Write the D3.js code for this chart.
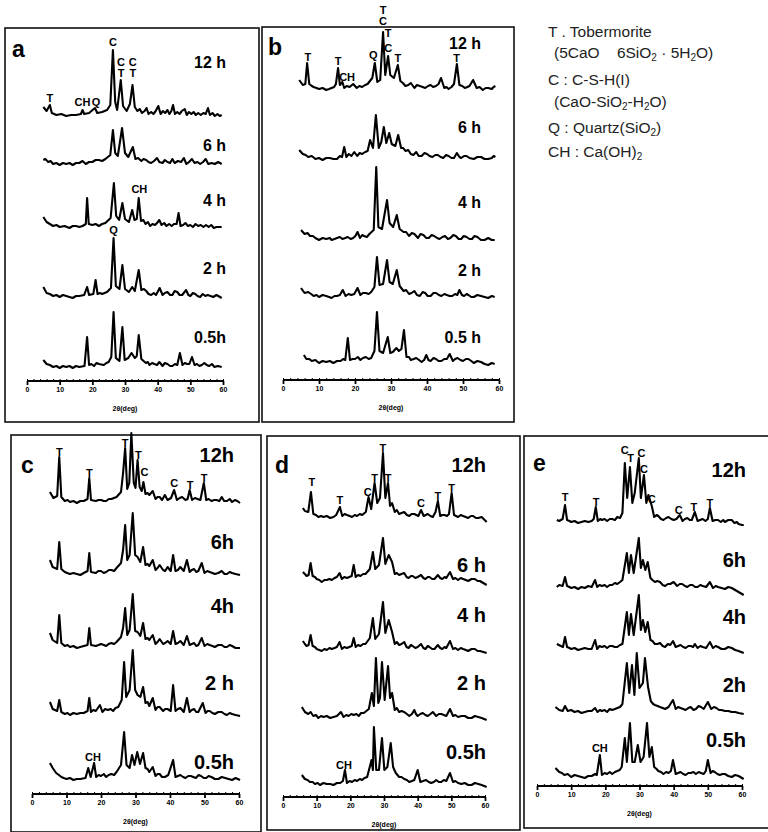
<!DOCTYPE html>
<html>
<head>
<meta charset="utf-8">
<script src="https://cdn.jsdelivr.net/npm/d3@7"></script>
<style>
  body { margin: 0; background: #fff; }
  svg { display: block; }
</style>
</head>
<body>
<div id="chart"></div>
<script>
// ---------- data (2theta in deg, intensity in counts above each trace baseline) ----------
const panelNames = ['a', 'b', 'c', 'd', 'e'];
const tickValues = [0, 10, 20, 30, 40, 50, 60];

const timeLabels = {
    a: ['12 h', '6 h', '4 h', '2 h', '0.5h'],
    b: ['12 h', '6 h', '4 h', '2 h', '0.5 h'],
    c: ['12h', '6h', '4h', '2 h', '0.5h'],
    d: ['12h', '6 h', '4 h', '2 h', '0.5h'],
    e: ['12h', '6h', '4h', '2h', '0.5h']
};

// panel a
const a12h = [[5, 100], [6, 60], [7, 120], [7.6, 40], [9, 20], [10.5, 30], [12, 10], [13.5, 20], [15, 20], [16.5, 30], [17, 70], [17.5, 30], [19, 40], [20.8, 90], [21.5, 40], [23, 50], [24.5, 70], [25.5, 120], [26.3, 670], [27, 150], [27.6, 70], [28.7, 370], [29.4, 110], [30.5, 60], [31.5, 130], [32.3, 320], [33, 100], [33.8, 60], [34.5, 80], [35.2, 40], [36, 60], [36.6, 90], [37.2, 30], [38, 50], [38.7, 30], [39.4, 60], [40.2, 110], [40.9, 30], [41.6, 60], [42.3, 40], [43, 70], [43.6, 30], [44.2, 60], [44.7, 120], [45.3, 30], [46, 50], [46.7, 30], [47.4, 60], [48.3, 80], [48.9, 20], [49.6, 50], [50.3, 30], [51, 50], [51.7, 20], [52.4, 40], [53.2, 20], [54, 40], [54.7, 30], [55.4, 90], [56, 20], [56.8, 40], [57.5, 10], [58.3, 30], [59, 10], [59.6, 20]];
const a6h = [[5, 50], [5.6, 60], [6.5, 30], [7.2, 40], [8, 10], [9, 20], [10, 0], [11, 20], [12, 10], [13, 20], [14, 0], [15, 20], [16, 20], [17, 40], [18, 10], [19, 30], [20, 30], [21, 50], [22, 50], [23, 40], [24, 60], [25.5, 100], [26.3, 350], [27, 120], [27.8, 90], [29.1, 370], [30, 120], [31, 80], [32.4, 180], [33.2, 60], [34, 70], [35, 40], [35.7, 60], [36.5, 50], [37.2, 30], [38, 20], [38.9, 40], [39.8, 70], [40.5, 30], [41.5, 20], [42.2, 50], [43, 30], [43.8, 20], [44.5, 60], [45.2, 20], [46.2, 40], [47.2, 30], [48, 70], [48.8, 10], [49.6, 30], [50.5, 60], [51.3, 20], [52.2, 30], [53, 10], [53.9, 30], [54.7, 60], [55.5, 10], [56.5, 20], [57.5, 10], [58.5, 30], [59.6, 10]];
const a4h = [[5, 110], [6, 60], [7, 40], [8, 20], [9, 30], [10, 10], [11.5, 20], [13, 0], [14, 20], [15, 20], [16, 10], [17, 20], [18, 40], [18.4, 300], [18.9, 40], [20, 30], [21, 40], [22, 20], [23, 40], [24, 50], [25.6, 100], [26.6, 450], [27.3, 120], [28.2, 80], [29.2, 250], [30, 90], [31.2, 60], [32.2, 180], [32.9, 80], [33.6, 90], [34.2, 300], [34.9, 70], [35.6, 80], [36.3, 40], [37, 60], [37.7, 20], [38.4, 40], [39.2, 30], [39.8, 50], [40.5, 80], [41.2, 30], [42, 50], [42.7, 20], [43.5, 40], [44.3, 20], [45, 40], [45.8, 40], [46.4, 150], [47, 20], [47.8, 30], [48.5, 50], [49.3, 20], [50, 30], [50.8, 10], [51.6, 40], [52.4, 20], [53.2, 30], [54, 10], [54.8, 30], [55.6, 10], [56.4, 30], [57.2, 0], [58, 10], [59.6, 10]];
const a2h = [[5, 110], [6, 50], [7, 40], [8, 20], [9, 30], [10, 10], [11, 30], [12, 20], [13, 10], [14, 0], [15, 20], [16, 20], [17.5, 30], [18.4, 110], [19, 30], [20.3, 40], [21, 180], [21.6, 40], [22.3, 50], [23, 40], [24.5, 60], [25.7, 100], [26.5, 600], [27.2, 120], [28.3, 90], [29.2, 330], [30, 90], [31.2, 60], [32.2, 110], [33, 70], [34.2, 280], [35, 80], [35.8, 90], [36.5, 70], [37.2, 40], [38, 30], [38.8, 50], [39.5, 30], [40.6, 100], [41.5, 30], [42.2, 50], [43, 60], [43.8, 30], [44.5, 30], [45.2, 70], [46, 60], [46.7, 30], [47.5, 30], [48.7, 80], [49.4, 30], [50, 20], [50.8, 50], [51.5, 40], [52.2, 20], [53, 10], [53.8, 40], [54.6, 20], [55.3, 30], [56.2, 20], [57, 10], [58, 30], [59.6, 0]];
const a05h = [[5, 80], [6, 40], [7, 30], [8, 10], [9, 20], [10, 0], [11, 20], [12, 10], [13, 20], [14, 0], [15, 20], [16, 10], [17.6, 20], [18.4, 310], [19, 30], [19.7, 40], [20.5, 20], [21.3, 50], [22, 40], [23.5, 30], [24.3, 50], [25, 60], [25.8, 110], [26.5, 560], [27.2, 100], [28.3, 70], [29.2, 410], [29.9, 80], [31, 100], [32, 150], [33, 100], [33.6, 120], [34.2, 330], [35, 90], [35.7, 70], [36.4, 50], [37, 60], [37.5, 30], [38.3, 50], [39, 40], [39.8, 30], [40.5, 60], [41.5, 20], [42.2, 50], [43, 40], [43.8, 20], [44.5, 20], [45.3, 40], [46, 30], [46.8, 150], [47.6, 30], [48.3, 50], [49, 40], [49.7, 40], [50.5, 110], [51.3, 30], [52, 40], [52.8, 20], [53.5, 30], [54.3, 50], [55, 30], [55.8, 20], [56.6, 40], [57.4, 10], [58.4, 20], [59.6, 10]];

// panel b
const b12h = [[4.5, 100], [5.5, 50], [6.2, 60], [6.7, 270], [7.3, 60], [8, 40], [8.5, 30], [9.3, 20], [10, 10], [11, 20], [12, 0], [12.8, 10], [13.5, 20], [14.2, 30], [14.7, 60], [15.3, 220], [15.8, 50], [16.5, 80], [17, 20], [17.7, 40], [18.5, 30], [19.5, 60], [20.5, 20], [21.2, 40], [22, 30], [22.8, 50], [23.5, 60], [24.8, 120], [25.5, 270], [26.2, 80], [27, 100], [27.8, 580], [28.4, 150], [29.2, 340], [29.8, 150], [30.8, 120], [31.9, 250], [32.6, 90], [33.3, 70], [34, 40], [34.8, 50], [35.5, 70], [36.5, 20], [37.2, 50], [38, 40], [38.8, 30], [39.5, 20], [40.3, 40], [41, 50], [41.7, 30], [42.5, 40], [43.2, 60], [43.9, 120], [44.8, 20], [45.4, 30], [46, 10], [46.8, 30], [47.5, 60], [48.3, 260], [49, 50], [49.8, 40], [50.5, 20], [51.2, 30], [51.8, 40], [52.8, 100], [53.8, 20], [54.6, 30], [55.5, 0], [56.3, 20], [57, 20], [58, 10], [58.5, 30], [59, 40]];
const b6h = [[4.5, 100], [5.5, 60], [6.3, 50], [7, 30], [8, 40], [9, 10], [10, 20], [11, 0], [12, 20], [13, 20], [14, 10], [15, 10], [15.8, 40], [16.4, 30], [17, 130], [17.6, 30], [18.3, 60], [19, 40], [19.8, 80], [20.6, 40], [21.3, 70], [22, 60], [22.8, 80], [23.5, 90], [24.2, 200], [25, 120], [25.8, 450], [26.6, 120], [27.3, 180], [28, 330], [28.7, 170], [29.5, 270], [30.2, 160], [31.2, 140], [32, 250], [32.8, 120], [33.4, 120], [34, 90], [34.8, 100], [35.5, 60], [36.2, 50], [37, 80], [37.7, 40], [38.5, 40], [39.3, 70], [40, 60], [40.7, 40], [41.5, 30], [42.3, 50], [43, 50], [43.8, 30], [44.5, 20], [45.3, 50], [46, 40], [46.8, 20], [47.5, 20], [48.3, 70], [49, 30], [49.5, 20], [50.3, 40], [51, 40], [51.8, 20], [53, 10], [54, 30], [55, 30], [56, 10], [57, 10], [58, 20], [58.5, 40], [59, 30]];
const b4h = [[5, 100], [6, 60], [6.8, 70], [7.5, 40], [8.3, 40], [9, 20], [10, 0], [11, 20], [12, 10], [13, 20], [13.5, 0], [14.3, 10], [15, 20], [15.8, 30], [16.5, 10], [17.3, 20], [18, 30], [18.8, 10], [19.5, 20], [20.1, 40], [20.7, 80], [21.4, 20], [22, 50], [22.5, 40], [23.3, 30], [24, 60], [25.2, 100], [25.9, 730], [26.5, 130], [27.5, 110], [28.9, 400], [29.6, 170], [30.6, 130], [31.6, 250], [32.4, 110], [33.5, 80], [34.2, 80], [35, 40], [35.8, 70], [36.5, 60], [37.5, 20], [38.2, 60], [39, 50], [39.8, 20], [40.5, 20], [41.3, 50], [42, 40], [42.8, 20], [43.5, 10], [44.3, 30], [45, 40], [45.8, 10], [46.5, 20], [47.3, 50], [48, 40], [48.8, 10], [49.5, 10], [50.2, 40], [51, 30], [51.8, 10], [52.5, 10], [53.2, 40], [54, 30], [55, 0], [56, 0], [57, 20], [58, 0], [58.8, 0]];
const b2h = [[5, 100], [6, 50], [7, 60], [7.8, 40], [8.5, 20], [9.3, 30], [10, 10], [11, 30], [12, 20], [12.8, 10], [13.5, 0], [14.3, 20], [15, 20], [15.8, 30], [16.6, 80], [17.4, 20], [18.2, 40], [19, 30], [19.8, 40], [20.7, 100], [21.5, 30], [22.2, 50], [23, 50], [23.8, 40], [24.5, 60], [25.4, 110], [26.1, 410], [26.8, 130], [27.8, 140], [28.9, 380], [29.6, 160], [30.5, 140], [31.6, 280], [32.4, 120], [33.5, 70], [34.2, 80], [35, 40], [35.7, 50], [36.5, 70], [37.2, 30], [38, 20], [38.8, 60], [39.5, 50], [40.2, 20], [41, 20], [41.8, 50], [42.5, 50], [43.3, 30], [44, 20], [44.8, 40], [45.5, 30], [46.3, 20], [47, 20], [47.8, 40], [48.4, 30], [49, 80], [49.7, 30], [50.3, 20], [51, 40], [51.5, 30], [52.3, 10], [53, 10], [54, 30], [55, 20], [56, 10], [57, 0], [58, 20], [58.8, 10]];
const b05h = [[5.8, 80], [6.5, 40], [7.3, 40], [8, 20], [9, 30], [10, 0], [11, 20], [12, 10], [13, 20], [14, 0], [15, 20], [16, 20], [16.7, 40], [17.3, 30], [18, 250], [18.6, 30], [19.3, 40], [20, 40], [20.8, 60], [21.5, 30], [22.2, 50], [23, 60], [23.8, 40], [24.5, 50], [25.4, 120], [26.1, 510], [26.8, 120], [27.8, 100], [29.1, 260], [29.8, 100], [30.5, 110], [31.5, 150], [32.2, 120], [32.9, 140], [33.6, 330], [34.3, 60], [35, 60], [35.5, 30], [36.3, 40], [37, 50], [37.8, 30], [38.5, 10], [39.2, 30], [39.8, 80], [40.4, 30], [41, 20], [41.8, 50], [42.5, 40], [43.2, 20], [44, 20], [44.8, 40], [45.5, 40], [46.3, 90], [47.2, 20], [47.8, 40], [48.5, 50], [49.3, 30], [50, 20], [50.8, 40], [51.5, 40], [52.3, 20], [53, 0], [54, 20], [55, 10], [56, -10], [57, -20], [58, 0], [58.8, -10]];

// panel c
const c12h = [[5.2, 110], [6.2, 50], [7.3, 70], [7.9, 460], [8.5, 60], [9.5, 20], [10.3, 30], [11, 10], [12, 20], [13, 0], [14, 20], [15, 20], [16.1, 40], [16.6, 250], [17.1, 30], [18.5, 20], [19.3, 30], [20, 30], [20.8, 20], [21.5, 20], [22.3, 40], [23, 40], [24.5, 60], [25.8, 110], [26.4, 300], [27, 550], [27.6, 140], [28.2, 200], [28.8, 700], [29.5, 200], [30, 150], [30.6, 430], [31.2, 160], [31.8, 120], [32.3, 210], [32.9, 90], [33.5, 100], [34, 80], [35, 120], [35.8, 40], [36.4, 60], [37, 60], [37.7, 30], [38.5, 80], [39.3, 30], [40.3, 50], [41.2, 130], [42, 30], [42.8, 50], [43.5, 60], [44.5, 30], [45.1, 40], [45.7, 130], [46.4, 30], [47.2, 50], [48, 40], [48.8, 30], [49.8, 200], [50.5, 30], [51.2, 40], [52, 20], [52.8, 30], [53.5, 30], [54.3, 20], [55, 60], [55.7, 20], [56.5, 20], [57.3, 40], [58, 10], [58.8, 30], [59.5, 20], [60.3, 0]];
const c6h = [[5.2, 150], [6, 80], [7.3, 60], [7.9, 330], [8.5, 60], [9.5, 30], [10.2, 20], [11, 10], [12, 20], [13, 10], [14, 0], [15, 20], [16.1, 40], [16.6, 220], [17.1, 30], [18.5, 20], [19.2, 40], [20, 40], [20.8, 20], [21.5, 30], [22.3, 50], [23, 50], [23.8, 40], [24.5, 70], [25.8, 120], [26.4, 250], [27, 500], [27.6, 150], [28.3, 200], [29.2, 620], [29.9, 200], [30.6, 180], [31.4, 130], [32.2, 280], [32.9, 100], [33.5, 110], [34, 90], [35, 150], [35.8, 50], [36.4, 70], [37, 100], [38, 50], [38.6, 40], [39.3, 80], [40.2, 40], [40.9, 200], [41.6, 40], [42.3, 50], [43, 80], [44, 40], [44.9, 150], [45.7, 30], [46.3, 50], [47, 60], [47.6, 30], [48.2, 40], [49.2, 120], [50, 20], [50.8, 40], [51.5, 30], [52.3, 20], [53, 10], [54, 20], [55, 40], [55.8, 10], [56.5, 10], [57.3, 30], [58, 20], [59, 10], [60.3, 0]];
const c4h = [[5.2, 150], [6, 80], [7.3, 50], [7.9, 330], [8.5, 50], [9.5, 20], [10.3, 30], [11, 10], [12, 20], [13, 0], [14, 10], [15, 20], [16.1, 30], [16.6, 200], [17.1, 30], [18.5, 20], [19.3, 30], [20, 40], [20.8, 30], [21.5, 20], [22.2, 40], [23, 50], [23.8, 40], [24.5, 60], [25.8, 110], [26.4, 200], [27, 400], [27.6, 130], [28.3, 180], [29.2, 540], [29.9, 170], [30.6, 160], [31.4, 120], [32.2, 250], [32.9, 90], [33.5, 100], [34, 80], [35, 130], [35.8, 40], [36.4, 60], [37, 90], [38, 40], [38.6, 50], [39.3, 70], [40.2, 40], [40.9, 170], [41.6, 40], [42.3, 50], [43, 70], [44, 30], [44.9, 120], [45.7, 30], [46.3, 40], [47, 50], [47.6, 20], [48.2, 30], [49.2, 100], [50, 20], [50.8, 40], [51.5, 30], [52.3, 20], [53, 10], [54, 30], [55, 30], [55.8, 10], [56.5, 10], [57.3, 30], [58, 20], [59, 0], [60.3, 0]];
const c2h = [[5.2, 130], [6, 60], [7.3, 40], [7.9, 150], [8.5, 30], [9.5, 10], [10.3, 20], [11, 0], [12, 20], [13, 10], [14, 20], [15, 20], [16.1, 40], [16.6, 170], [17.1, 30], [17.8, 50], [18.5, 40], [19.7, 100], [20.4, 30], [21.2, 60], [22, 50], [22.8, 60], [23.5, 40], [24.2, 70], [25, 80], [26, 150], [26.7, 530], [27.3, 180], [28.3, 250], [29.2, 650], [29.9, 250], [30.6, 200], [31.4, 180], [32.2, 280], [32.9, 120], [33.5, 130], [34, 90], [35, 170], [35.8, 50], [36.4, 80], [37, 80], [38, 40], [38.6, 60], [39.3, 60], [40.2, 40], [40.9, 300], [41.6, 40], [42.3, 60], [43, 70], [44, 30], [44.9, 170], [45.7, 30], [46.3, 50], [47, 60], [47.6, 30], [48.2, 30], [49.5, 120], [50.3, 20], [50.9, 40], [51.5, 40], [52.3, 20], [53, 10], [54, 30], [55, 30], [55.8, 10], [56.5, 0], [57.3, 20], [58, 10], [59, 0], [60.3, -10]];
const c05h = [[5.2, 170], [6, 120], [7, 70], [7.8, 50], [8.5, 30], [9.2, 20], [10, 10], [11, 20], [12, 0], [13, 10], [14, 10], [15.5, 20], [16.3, 120], [17, 30], [18, 170], [18.6, 30], [19.3, 50], [20, 40], [20.8, 60], [21.5, 30], [22.2, 50], [23, 60], [23.8, 50], [24.5, 80], [25.8, 150], [26.7, 480], [27.4, 150], [28.3, 120], [29, 250], [29.7, 150], [30.5, 280], [31.3, 160], [32.2, 270], [32.9, 120], [33.5, 110], [34, 80], [35, 130], [35.8, 40], [36.4, 60], [37, 60], [37.7, 30], [38.5, 30], [39.5, 50], [40.9, 200], [41.6, 30], [42.3, 40], [43, 50], [43.8, 30], [44.5, 20], [45.3, 40], [46, 40], [46.8, 30], [47.5, 20], [48.3, 50], [49, 40], [49.8, 20], [50.5, 20], [51.2, 40], [52, 30], [53, 10], [54, 10], [55, 30], [56, 20], [57, 10], [58, 0], [59, 20], [60.3, 0]];

// panel d
const d12h = [[5.9, 100], [6.5, 70], [7.5, 60], [8.3, 260], [9, 40], [9.8, 30], [10.5, 10], [11.3, 20], [12, 10], [13, 20], [14, 0], [15, 10], [15.8, 30], [16.9, 110], [17.6, 20], [18.3, 40], [19, 30], [19.8, 20], [20.5, 10], [21.3, 30], [22, 20], [22.8, 40], [23.5, 30], [24.6, 60], [25.4, 210], [26.2, 90], [27.2, 350], [28, 150], [28.8, 200], [29.7, 650], [30.4, 200], [31.2, 350], [31.8, 120], [32.4, 150], [33.2, 60], [33.8, 80], [34.5, 40], [35.2, 50], [36, 60], [36.8, 30], [37.5, 20], [38.2, 40], [39, 40], [39.6, 30], [40.2, 20], [41, 80], [41.8, 20], [42.4, 30], [43, 40], [43.8, 20], [44.5, 10], [45.3, 60], [46, 170], [46.7, 20], [47.3, 30], [48, 30], [48.7, 20], [49.3, 40], [50.1, 250], [50.8, 30], [51.4, 20], [52, 10], [52.8, 30], [53.5, 20], [54.3, 10], [55, 0], [55.8, 20], [56.5, 20], [57.3, 0], [58, 0], [59, 10], [60.5, -40]];
const d6h = [[5.9, 80], [6.5, 60], [7, 40], [7.6, 50], [8.2, 170], [8.8, 40], [9.5, 30], [10, 10], [10.8, 0], [11.5, -20], [12.3, 0], [13, 0], [13.8, 10], [14.5, 0], [15.3, 20], [16, 30], [16.8, 70], [17.5, 10], [18.2, 30], [19, 20], [19.7, 30], [20.4, 40], [21, 150], [21.6, 30], [22.3, 50], [23, 40], [23.8, 60], [24.5, 60], [25.8, 110], [26.7, 280], [27.4, 110], [28.5, 150], [29.7, 420], [30.4, 160], [31.4, 250], [32.4, 180], [33.2, 60], [33.8, 70], [34.5, 50], [35.2, 60], [36, 70], [36.7, 30], [37.3, 20], [38, 40], [38.5, 40], [39.3, 20], [40, 30], [41, 50], [41.7, 20], [42.3, 10], [43, 30], [43.5, 30], [44.3, 10], [45, 10], [46, 50], [46.7, 20], [47.3, 10], [48, 30], [48.5, 20], [49.6, 80], [50.5, 10], [51.2, 20], [52, 0], [52.8, 20], [53.5, 10], [54.3, 0], [55, -10], [56, 10], [57, 10], [57.8, -10], [58.5, -10], [59.5, -30], [60.5, -50]];
const d4h = [[5.9, 90], [6.5, 60], [7, 40], [7.6, 50], [8.2, 150], [8.8, 40], [9.5, 30], [10, 10], [10.8, 0], [11.5, -10], [12.3, 10], [13, 0], [13.8, 20], [14.5, 10], [15.3, 20], [16, 30], [16.8, 80], [17.5, 10], [18.2, 30], [19, 20], [19.7, 30], [20.4, 40], [21, 120], [21.6, 30], [22.3, 50], [23, 40], [23.8, 60], [24.5, 60], [25.8, 120], [26.7, 320], [27.4, 110], [28.5, 160], [29.7, 480], [30.4, 170], [31.4, 300], [32.4, 180], [33.2, 60], [33.8, 80], [34.5, 50], [35.2, 60], [36, 80], [36.7, 30], [37.3, 20], [38, 50], [38.5, 40], [39.3, 20], [40, 30], [41, 60], [41.7, 20], [42.3, 10], [43, 40], [43.5, 30], [44.3, 10], [45, 10], [46, 50], [46.7, 20], [47.3, 10], [48, 30], [48.5, 20], [49.6, 90], [50.5, 10], [51.2, 20], [52, 0], [52.8, 20], [53.5, 10], [54.3, 0], [55, -10], [56, 10], [57, 10], [57.8, -10], [58.5, -10], [59.5, -20], [60.5, -30]];
const d2h = [[5.6, 110], [6.5, 60], [7.5, 40], [8.2, 60], [9, 20], [9.8, 30], [10.5, 0], [11.3, 20], [12, 10], [13, 20], [14, 0], [15, 10], [16, 20], [17.2, 60], [18, 10], [18.8, 30], [19.5, 20], [20.3, 40], [21, 30], [21.8, 40], [22.5, 20], [23.2, 50], [24, 50], [25.5, 90], [26.4, 250], [27, 120], [27.6, 600], [28.3, 150], [28.8, 200], [29.4, 560], [30.2, 180], [31.2, 520], [31.8, 200], [32.4, 250], [33.2, 80], [33.8, 100], [34.5, 60], [35.2, 70], [36, 60], [36.8, 40], [37.5, 20], [38.3, 40], [39, 80], [39.5, 40], [40, 20], [40.8, 40], [41.5, 50], [42.3, 30], [43, 20], [43.8, 40], [44.5, 60], [45, 40], [45.5, 20], [46.3, 40], [47, 40], [47.8, 30], [48.5, 20], [49.6, 90], [50.5, 20], [51.2, 30], [52, 10], [53, 20], [54, 20], [55, 0], [56, 0], [57, 20], [58, 10], [59, 0], [60.5, -20]];
const d05h = [[5.6, 100], [6.5, 60], [7.3, 50], [8, 30], [8.8, 30], [9.5, 10], [10.3, 20], [11, 0], [12, 20], [13, 10], [14, 10], [15, 0], [16, 20], [17, 20], [17.8, 40], [18.4, 150], [19, 20], [19.8, 40], [20.5, 30], [21.3, 50], [22, 40], [22.8, 60], [23.5, 50], [24.2, 70], [25, 80], [26.3, 250], [26.7, 150], [27, 580], [27.7, 150], [28.5, 150], [29.4, 470], [30.1, 150], [31, 180], [32, 420], [32.7, 180], [33.5, 120], [34.5, 80], [35.2, 80], [36, 60], [36.8, 50], [37.5, 30], [38.3, 40], [39, 50], [40, 150], [40.8, 30], [41.6, 40], [42.5, 50], [43.3, 30], [44, 20], [44.8, 30], [45.5, 50], [46.3, 30], [47, 30], [47.8, 50], [48.5, 40], [49.6, 120], [50.5, 30], [51.2, 40], [52, 20], [53, 10], [54, 20], [55, 0], [56, 0], [57, 20], [58, 10], [59, 0], [60.5, -20]];

// panel e
const e12h = [[5.8, 30], [6.5, 20], [7.5, 40], [8.2, 180], [8.8, 30], [9.5, 20], [10, 10], [11, 20], [12, 0], [13, 10], [14, 20], [15, 10], [16, 20], [16.6, 40], [17.2, 160], [17.8, 20], [18.5, 40], [19, 30], [19.8, 40], [20.5, 20], [21.3, 40], [22, 40], [22.8, 30], [23.5, 60], [24.3, 50], [25, 100], [25.7, 600], [26.4, 250], [27.2, 560], [27.9, 200], [28.6, 300], [29.8, 650], [30.4, 250], [31.3, 480], [32, 200], [32.6, 280], [33.6, 170], [34.3, 60], [35, 80], [35.5, 70], [36.3, 40], [37, 30], [37.8, 50], [38.5, 60], [39.3, 40], [40, 30], [40.8, 40], [41.8, 80], [42.6, 20], [43.3, 40], [44, 50], [44.7, 30], [45.3, 30], [46.2, 110], [47, 20], [47.7, 30], [48.5, 40], [49.3, 20], [50, 40], [50.6, 150], [51.4, 20], [52.2, 30], [53, 30], [53.8, 10], [54.5, 30], [55, 10], [56, 30], [57, 30], [57.8, 0], [58.5, 10], [59, -10], [60, -20], [60.5, -20]];
const e6h = [[5.8, 10], [6.5, 30], [7.5, 20], [8.2, 110], [8.8, 20], [9.5, 10], [10, 0], [11, 10], [12, -10], [13, 10], [14, 0], [15, 20], [16, 10], [17, 80], [17.6, 10], [18.3, 30], [19, 20], [19.8, 30], [20.5, 10], [21.3, 30], [22, 30], [22.8, 50], [23.5, 40], [24.3, 60], [25, 80], [26.3, 350], [26.9, 150], [27.5, 330], [28.3, 150], [29.8, 500], [30.4, 200], [31, 280], [31.7, 180], [32.4, 260], [33.2, 100], [33.8, 80], [34.5, 60], [35.2, 70], [36, 60], [36.8, 30], [37.5, 20], [38.3, 40], [39, 40], [40, 60], [41, 20], [41.8, 40], [42.5, 40], [43.3, 20], [44, 10], [44.8, 30], [45.5, 30], [46.3, 10], [47, 10], [47.8, 30], [48.5, 20], [49.5, 10], [50.6, 60], [51.5, 0], [52.3, 20], [53, 10], [54, 0], [55, -10], [56, 10], [57, 0], [58, -20], [59, -40], [60.5, -70]];
const e4h = [[5.8, 60], [6.4, 50], [7, 40], [7.6, 30], [8.2, 130], [8.8, 30], [9.5, 20], [10, 10], [11, 20], [12, 0], [13, 10], [14, 20], [15, 10], [16, 10], [17, 100], [17.6, 10], [18.3, 40], [19, 30], [19.8, 40], [20.5, 20], [21.3, 40], [22, 40], [22.8, 30], [23.5, 30], [24.3, 50], [25, 60], [26.3, 380], [26.9, 150], [27.5, 360], [28.3, 150], [29.8, 550], [30.4, 200], [31, 300], [31.7, 180], [32.4, 280], [33.2, 100], [33.8, 90], [34.5, 60], [35.2, 60], [36, 70], [36.8, 40], [37.5, 30], [38.3, 60], [39, 50], [39.8, 90], [40.6, 30], [41.3, 40], [42, 50], [42.8, 30], [43.5, 20], [44.3, 40], [45, 40], [45.7, 30], [46.2, 60], [47, 20], [47.8, 40], [48.5, 30], [49.5, 20], [50.6, 80], [51.5, 20], [52.3, 40], [53, 30], [54, 10], [55, 10], [56, 30], [57, 20], [58, 0], [59, -10], [60.5, -30]];
const e2h = [[5.4, 60], [6.5, 30], [7.5, 20], [8.2, 70], [9, 20], [10, 30], [11, 10], [12, 20], [13, 0], [14, 10], [15, 20], [16, 20], [17, 50], [17.7, 10], [18.4, 30], [19, 20], [19.8, 30], [20.5, 10], [21.3, 40], [22, 30], [22.8, 40], [23.5, 50], [24.3, 60], [25, 90], [26.3, 500], [27, 200], [27.8, 480], [28.5, 180], [29.2, 600], [30, 250], [31, 300], [31.6, 550], [32.5, 260], [33.3, 120], [34, 90], [34.5, 80], [35.3, 70], [36, 60], [36.8, 50], [37.5, 40], [38.5, 60], [39.8, 130], [40.6, 40], [41.3, 60], [42, 50], [42.8, 40], [43.5, 30], [44.3, 50], [45, 60], [45.8, 30], [46.5, 40], [47.3, 70], [48, 60], [48.8, 40], [50, 110], [51, 40], [51.8, 60], [52.5, 50], [53.3, 30], [54, 30], [55, 20], [56, 20], [57, 10], [58, 10], [59, 0], [60.5, -10]];
const e05h = [[5.4, 90], [6.5, 50], [7.3, 40], [8, 20], [9, 30], [10, 0], [11, 20], [12, 10], [13, 0], [14, -10], [15, 10], [16, 10], [17, 30], [17.5, 20], [18.4, 220], [19, 20], [19.8, 40], [20.5, 30], [21.3, 50], [22, 30], [22.8, 50], [23.5, 60], [24.2, 70], [24.8, 100], [25.7, 390], [26.3, 150], [27.2, 540], [27.9, 150], [28.6, 150], [29.5, 320], [30.3, 150], [31.2, 200], [32.2, 540], [32.9, 200], [33.6, 300], [34.3, 100], [35, 80], [35.5, 60], [36.3, 50], [37, 30], [37.8, 50], [38.5, 40], [39.2, 60], [39.8, 170], [40.6, 30], [41.3, 40], [42, 50], [42.8, 30], [43.5, 20], [44.3, 40], [45, 40], [45.8, 50], [46.5, 30], [47.3, 50], [48, 40], [48.8, 30], [49.4, 60], [50, 170], [50.8, 40], [51.4, 60], [52, 50], [52.8, 30], [53.5, 20], [54.3, 30], [55, 30], [56, 10], [57, 0], [58, 20], [59, 10], [60.5, -20]];

// phase marks: [trace index, 2theta, intensity at letter baseline, letter]
const aMarks = [[0, 7, 150, 'T'], [0, 17, 110, 'CH'], [0, 21.1, 110, 'Q'], [0, 26.3, 710, 'C'], [0, 28.8, 510, 'C'], [0, 28.8, 400, 'T'], [0, 32.4, 510, 'C'], [0, 32.4, 400, 'T'], [2, 34.4, 350, 'CH'], [3, 26.5, 640, 'Q']];
const bMarks = [[0, 6.9, 290, 'T'], [0, 15.3, 250, 'T'], [0, 17.8, 90, 'CH'], [0, 25.1, 310, 'Q'], [0, 27.8, 760, 'T'], [0, 27.8, 650, 'C'], [0, 29.2, 530, 'T'], [0, 29.2, 380, 'C'], [0, 31.9, 280, 'T'], [0, 48.2, 280, 'T']];
const cMarks = [[0, 7.9, 470, 'T'], [0, 16.6, 260, 'T'], [0, 27, 560, 'T'], [0, 30.8, 440, 'T'], [0, 32.6, 270, 'C'], [0, 41.2, 160, 'C'], [0, 45.8, 140, 'T'], [0, 49.9, 210, 'T'], [4, 17.7, 190, 'CH']];
const dMarks = [[0, 8.6, 320, 'T'], [0, 16.9, 140, 'T'], [0, 25.2, 220, 'C'], [0, 27.2, 360, 'T'], [0, 29.7, 660, 'T'], [0, 31.2, 360, 'T'], [0, 41, 110, 'C'], [0, 46, 180, 'T'], [0, 50.1, 260, 'T'], [4, 18.1, 160, 'CH']];
const eMarks = [[0, 8.2, 220, 'T'], [0, 17.3, 170, 'T'], [0, 25.7, 690, 'C'], [0, 27.4, 610, 'T'], [0, 30.6, 660, 'C'], [0, 31.3, 500, 'C'], [0, 33.6, 200, 'C'], [0, 41.5, 90, 'C'], [0, 45.9, 120, 'T'], [0, 50.6, 160, 'T'], [4, 18.4, 250, 'CH']];

const traces = {
    a: [a12h, a6h, a4h, a2h, a05h],
    b: [b12h, b6h, b4h, b2h, b05h],
    c: [c12h, c6h, c4h, c2h, c05h],
    d: [d12h, d6h, d4h, d2h, d05h],
    e: [e12h, e6h, e4h, e2h, e05h]
};
const marks = { a: aMarks, b: bMarks, c: cMarks, d: dMarks, e: eMarks };

// ---------- layout (pixels) ----------
const layout = {
    a: { box: [5, 28, 259, 422], x: [27, 223], axisY: 381, base: [117, 165, 228, 298, 368],
         labelX: 226, labelY: [62, 145, 200, 268, 337], tSize: 16, letter: [12, 57] },
    b: { box: [262, 27, 514, 422], x: [283, 499], axisY: 380, base: [90, 160, 240, 298, 363],
         labelX: 481, labelY: [43, 127, 202, 270, 337], tSize: 16, letter: [268, 55] },
    c: { box: [11, 435, 261, 832], x: [32, 239], axisY: 794, base: [503, 575, 648, 715, 780],
         labelX: 234, labelY: [455, 542, 606, 683, 762], tSize: 20, letter: [21, 473] },
    d: { box: [267, 436, 520, 830], x: [283, 485], axisY: 797, base: [518, 580, 650, 718, 785],
         labelX: 486, labelY: [465, 565, 615, 683, 752], tSize: 20, letter: [275, 473] },
    e: { box: [524, 436, 770, 828], x: [537, 742], axisY: 786, base: [523, 588, 650, 713, 777],
         labelX: 746, labelY: [470, 560, 617, 685, 740], tSize: 20, letter: [533, 471] }
};

const svg = d3.select('#chart').append('svg')
    .attr('width', 768)
    .attr('height', 832)
    .style('font-family', "'Liberation Sans', Arial, Helvetica, sans-serif");

// intensity -> pixel height above baseline
const yScale = d3.scaleLinear().domain([0, 1000]).range([0, 100]);

panelNames.forEach(p => {
    const L = layout[p];
    const g = svg.append('g').attr('class', 'panel-' + p);
    const xScale = d3.scaleLinear().domain([0, 60]).range(L.x);

    // frame
    g.append('rect')
        .attr('x', L.box[0]).attr('y', L.box[1])
        .attr('width', L.box[2] - L.box[0]).attr('height', L.box[3] - L.box[1])
        .attr('fill', 'none').attr('stroke', '#111').attr('stroke-width', 1.6);

    // panel letter
    g.append('text')
        .attr('x', L.letter[0]).attr('y', L.letter[1])
        .attr('font-size', 23).attr('font-weight', 'bold')
        .text(p);

    // traces
    traces[p].forEach((tr, i) => {
        const line = d3.line()
            .x(d => xScale(d[0]))
            .y(d => L.base[i] - yScale(d[1]));
        g.append('path')
            .datum(tr)
            .attr('d', line)
            .attr('fill', 'none')
            .attr('stroke', '#000')
            .attr('stroke-width', 2.1)
            .attr('stroke-linejoin', 'round');

        g.append('text')
            .attr('x', L.labelX).attr('y', L.labelY[i])
            .attr('dy', '0.36em')
            .attr('text-anchor', 'end')
            .attr('font-size', L.tSize).attr('font-weight', 'bold')
            .text(timeLabels[p][i]);
    });

    // phase letters
    g.selectAll('.mark')
        .data(marks[p])
        .join('text')
        .attr('class', 'mark')
        .attr('x', d => xScale(d[1]))
        .attr('y', d => L.base[d[0]] - yScale(d[2]))
        .attr('text-anchor', 'middle')
        .attr('font-size', 11).attr('font-weight', 'bold')
        .text(d => d[3]);

    // x axis
    const axisG = g.append('g')
        .attr('transform', `translate(0,${L.axisY})`);
    axisG.call(d3.axisBottom(xScale).tickValues(tickValues).tickSize(4).tickPadding(2))
        .call(a => a.select('.domain').attr('stroke-width', 2.2).attr('d', `M${L.x[0]},0H${L.x[1]}`))
        .call(a => a.selectAll('.tick line').attr('stroke-width', 1.8))
        .call(a => a.selectAll('.tick text')
            .attr('font-size', 7).attr('font-weight', 'bold')
            .attr('font-family', "'Liberation Sans', Arial, sans-serif"));
    axisG.append('g')
        .call(d3.axisBottom(xScale).ticks(30).tickSize(-2).tickFormat(''))
        .call(a => a.select('.domain').remove());

    g.append('text')
        .attr('x', (L.x[0] + L.x[1]) / 2)
        .attr('y', L.axisY + 30)
        .attr('text-anchor', 'middle')
        .attr('font-size', 7).attr('font-weight', 'bold')
        .text('2\u03b8(deg)');
});

// legend
const nb = '\u00a0';
const legendLines = [
    { x: 548, y: 37, parts: [['T . Tobermorite']] },
    { x: 554, y: 58, parts: [['(5CaO' + nb + nb + nb + nb + '6SiO'], ['2', 'sub'], [' \u00b7 5H'], ['2', 'sub'], ['O)']] },
    { x: 548, y: 85, parts: [['C : C-S-H(I)']] },
    { x: 554, y: 107, parts: [['(CaO-SiO'], ['2', 'sub'], ['-H'], ['2', 'sub'], ['O)']] },
    { x: 548, y: 133, parts: [['Q : Quartz(SiO'], ['2', 'sub'], [')']] },
    { x: 548, y: 157, parts: [['CH : Ca(OH)'], ['2', 'sub']] }
];
const legend = svg.append('g').attr('class', 'legend')
    .attr('fill', '#222').attr('font-size', 15.5);
legendLines.forEach(l => {
    const t = legend.append('text').attr('x', l.x).attr('y', l.y);
    l.parts.forEach((part, k) => {
        const s = t.append('tspan').text(part[0]);
        if (part[1] === 'sub') s.attr('font-size', 10).attr('dy', 3);
        else if (k > 0) s.attr('dy', -3);
    });
});
</script>
</body>
</html>
